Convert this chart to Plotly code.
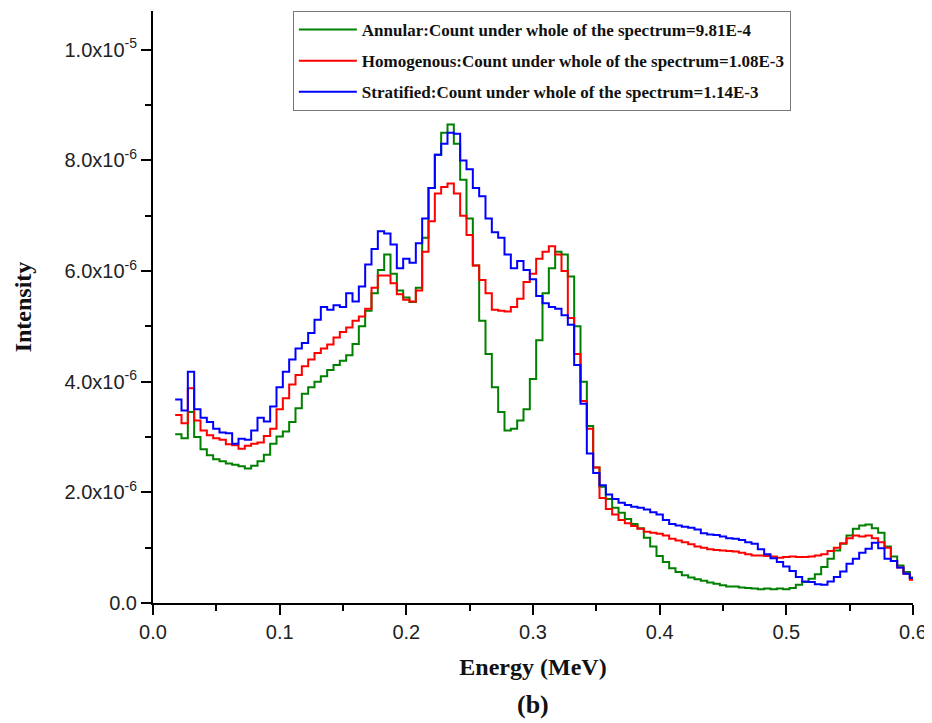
import numpy as np
import plotly.graph_objects as go

# Bin centres (MeV), bin width 0.005
energy = [round(0.020 + 0.005 * k, 3) for k in range(117)]

# Intensities in units of 1e-6
annular = [
    3.05, 2.98, 3.45, 3.00, 2.78, 2.67, 2.60, 2.56, 2.52, 2.50,
    2.47, 2.43, 2.48, 2.56, 2.68, 2.88, 3.01, 3.10, 3.27, 3.52,
    3.78, 3.90, 4.00, 4.10, 4.21, 4.30, 4.38, 4.48, 4.68, 5.00,
    5.28, 5.60, 6.02, 6.30, 5.95, 5.65, 5.52, 5.44, 5.70, 6.60,
    7.50, 8.10, 8.50, 8.65, 8.30, 7.65, 6.95, 6.10, 5.10, 4.50,
    3.90, 3.45, 3.12, 3.15, 3.30, 3.50, 4.05, 4.75, 5.60, 6.05,
    6.35, 6.30, 5.90, 5.00, 4.00, 3.20, 2.45, 2.10, 1.88, 1.72,
    1.63, 1.52, 1.43, 1.35, 1.18, 1.02, 0.85, 0.74, 0.63, 0.56,
    0.50, 0.46, 0.43, 0.40, 0.37, 0.35, 0.32, 0.30, 0.30, 0.28,
    0.27, 0.26, 0.25, 0.26, 0.25, 0.26, 0.25, 0.27, 0.33, 0.38,
    0.44, 0.52, 0.65, 0.80, 0.95, 1.07, 1.22, 1.34, 1.40, 1.42,
    1.35, 1.27, 1.02, 0.84, 0.68, 0.56, 0.46,
]
homogenous = [
    3.40, 3.25, 3.88, 3.30, 3.12, 3.03, 2.98, 2.95, 2.87, 2.85,
    2.79, 2.84, 2.88, 2.90, 3.02, 3.15, 3.50, 3.70, 3.95, 4.12,
    4.28, 4.40, 4.52, 4.60, 4.67, 4.80, 4.90, 4.98, 5.10, 5.18,
    5.32, 5.70, 5.92, 5.92, 5.78, 5.58, 5.48, 5.45, 5.65, 6.35,
    6.90, 7.40, 7.52, 7.58, 7.40, 7.00, 6.65, 6.10, 5.84, 5.60,
    5.30, 5.28, 5.27, 5.35, 5.50, 5.80, 5.95, 6.22, 6.35, 6.45,
    6.30, 6.00, 5.15, 4.50, 3.65, 3.15, 2.45, 1.90, 1.70, 1.60,
    1.50, 1.44, 1.39, 1.34, 1.29, 1.27, 1.25, 1.22, 1.16, 1.13,
    1.10, 1.06, 1.02, 1.00, 0.97, 0.96, 0.95, 0.94, 0.93, 0.91,
    0.88, 0.86, 0.86, 0.85, 0.84, 0.82, 0.83, 0.84, 0.83, 0.83,
    0.84, 0.86, 0.88, 0.94, 1.00, 1.08, 1.17, 1.22, 1.20, 1.22,
    1.17, 1.10, 1.00, 0.76, 0.64, 0.53, 0.42,
]
stratified = [
    3.68, 3.48, 4.18, 3.50, 3.35, 3.27, 3.15, 3.08, 3.07, 2.88,
    2.97, 2.95, 3.12, 3.35, 3.28, 3.55, 3.90, 4.18, 4.40, 4.60,
    4.70, 4.88, 5.12, 5.35, 5.30, 5.38, 5.35, 5.60, 5.45, 5.72,
    6.12, 6.40, 6.72, 6.68, 6.48, 6.05, 6.22, 6.15, 6.50, 6.95,
    7.50, 8.10, 8.30, 8.50, 8.48, 8.00, 7.84, 7.50, 7.35, 6.95,
    6.70, 6.60, 6.30, 6.05, 6.18, 6.02, 5.85, 5.55, 5.42, 5.35,
    5.32, 5.20, 5.03, 4.30, 3.60, 2.70, 2.35, 2.13, 1.96, 1.88,
    1.81, 1.77, 1.74, 1.72, 1.69, 1.64, 1.60, 1.50, 1.43, 1.40,
    1.38, 1.36, 1.33, 1.26, 1.24, 1.23, 1.20, 1.17, 1.16, 1.14,
    1.10, 1.07, 0.97, 0.88, 0.81, 0.74, 0.66, 0.58, 0.47, 0.39,
    0.38, 0.34, 0.33, 0.39, 0.47, 0.57, 0.71, 0.80, 0.91, 0.98,
    1.09, 0.99, 0.80, 0.76, 0.64, 0.53, 0.45,
]

names = [
    "Annular:Count under whole of the spectrum=9.81E-4",
    "Homogenous:Count under whole of the spectrum=1.08E-3",
    "Stratified:Count under whole of the spectrum=1.14E-3",
]
colors = ["#008000", "#ff0000", "#0000ff"]

y_tickvals = [0, 2e-6, 4e-6, 6e-6, 8e-6, 1e-5]
y_ticktext = ["0.0", "2.0x10<sup>-6</sup>", "4.0x10<sup>-6</sup>",
              "6.0x10<sup>-6</sup>", "8.0x10<sup>-6</sup>", "1.0x10<sup>-5</sup>"]
y_minorvals = [1e-6, 3e-6, 5e-6, 7e-6, 9e-6]
x_tickvals = [0, 0.1, 0.2, 0.3, 0.4, 0.5, 0.6]
x_ticktext = ["0.0", "0.1", "0.2", "0.3", "0.4", "0.5", "0.6"]
x_minorvals = [0.05, 0.15, 0.25, 0.35, 0.45, 0.55]

half = 0.0025
centres = np.array(energy)
edges = np.append(centres - half, centres[-1] + half)

fig = go.Figure()
for i, (vals, name, col) in enumerate(zip([annular, homogenous, stratified], names, colors)):
    v = np.array(vals) * 1e-6
    yv = np.append(v, v[-1])
    fig.add_trace(go.Scatter(
        x=edges, y=yv, mode="lines", name=name,
        line=dict(color=col, width=2, shape="hv"),
        legendgroup=f"g{i}",
    ))

serif = "Liberation Serif, Times New Roman, serif"
sans = "Liberation Sans, Arial, sans-serif"

fig.update_layout(
    width=924, height=715,
    margin=dict(l=145, r=19, t=3, b=120),
    plot_bgcolor="white", paper_bgcolor="white",
    showlegend=True,
    legend=dict(
        x=0.184, y=1.0, xanchor="left", yanchor="top",
        bordercolor="#777777", borderwidth=1,
        font=dict(family=serif, size=17, color="#111111", weight="bold"),
        tracegroupgap=6, traceorder="grouped",
        itemwidth=58,
        bgcolor="white",
    ),
    xaxis=dict(
        range=[0, 0.6], tickmode="array",
        tickvals=x_tickvals, ticktext=x_ticktext,
        showline=True, linecolor="black", linewidth=2,
        ticks="outside", ticklen=10, tickwidth=2, tickcolor="black",
        minor=dict(tickmode="array", tickvals=x_minorvals,
                   ticks="outside", ticklen=6, tickwidth=2, tickcolor="black"),
        showgrid=False, zeroline=False,
        tickfont=dict(family=sans, size=20, color="#222222"),
        title=dict(text="<b>Energy (MeV)</b>", font=dict(family=serif, size=24, color="#111111"),
                   standoff=16),
    ),
    yaxis=dict(
        range=[0, 1.07e-5], tickmode="array",
        tickvals=y_tickvals, ticktext=y_ticktext,
        showline=True, linecolor="black", linewidth=2,
        ticks="outside", ticklen=10, tickwidth=2, tickcolor="black",
        minor=dict(tickmode="array", tickvals=y_minorvals,
                   ticks="outside", ticklen=6, tickwidth=2, tickcolor="black"),
        showgrid=False, zeroline=False,
        tickfont=dict(family=sans, size=20, color="#222222"),
        title=dict(text="<b>Intensity</b>", font=dict(family=serif, size=24, color="#111111"),
                   standoff=26),
    ),
    annotations=[dict(
        text="<b>(b)</b>", xref="paper", yref="paper", x=0.5, y=-0.172,
        xanchor="center", yanchor="middle", showarrow=False,
        font=dict(family=serif, size=26, color="#111111"),
    )],
)

fig.write_html("out.html")
